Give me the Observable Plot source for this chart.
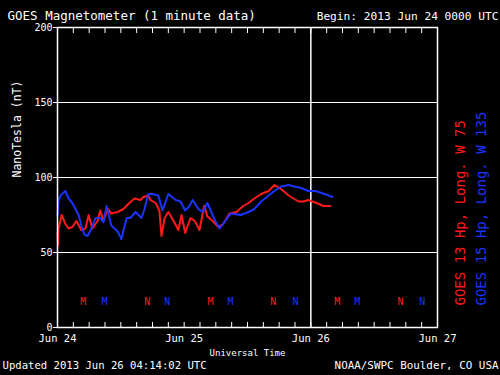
<!DOCTYPE html>
<html>
<head>
<meta charset="utf-8">
<script src="https://cdn.jsdelivr.net/npm/d3@7"></script>
<script src="https://cdn.jsdelivr.net/npm/@observablehq/plot@0.6"></script>
<style>
  html, body { margin: 0; padding: 0; background: #000; }
</style>
</head>
<body>
<div id="chart"></div>
<script>
// Hours since 2013 Jun 24 00:00 UTC
const redHours = [0.0, 0.1, 0.2, 0.8, 1.5, 2.1, 2.8, 3.6, 4.5, 5.3, 5.9, 6.6, 7.6, 8.1, 8.7, 9.5, 10.2, 11.4, 12.5, 13.6, 14.6, 15.7, 16.3, 17.2, 17.6, 18.6, 19.3, 19.7, 20.3, 21.0, 22.0, 22.9, 23.5, 24.2, 25.2, 26.0, 26.9, 27.8, 28.4, 29.4, 30.5, 31.4, 32.6, 33.9, 35.2, 36.2, 37.3, 38.6, 40.0, 41.1, 42.1, 42.8, 43.8, 44.7, 45.7, 46.6, 47.5, 49.1, 50.4, 51.7];
const redValues = [63, 55, 66, 75, 69, 66, 67, 71, 65, 66, 75, 66, 71, 78, 71, 79, 76, 77, 79, 83, 86, 85, 87, 88, 85, 83, 78, 61, 73, 77, 71, 65, 75, 63, 73, 71, 65, 81, 74, 71, 67, 69, 76, 77, 81, 83, 86, 89, 91, 95, 93, 91, 88, 86, 84, 84, 85, 83, 81, 81];
const blueHours = [0.0, 0.2, 0.57, 1.5, 2.1, 2.8, 3.4, 4.0, 4.5, 5.1, 5.7, 6.3, 7.2, 8.1, 8.7, 9.3, 10.2, 11.4, 12.1, 13.1, 13.8, 14.8, 15.9, 16.5, 17.2, 18.0, 19.1, 19.9, 21.0, 22.4, 23.3, 24.2, 25.0, 25.6, 26.7, 27.5, 28.4, 29.4, 29.9, 30.7, 31.8, 32.8, 34.7, 36.2, 37.3, 38.6, 40.0, 41.1, 42.4, 43.8, 44.9, 46.2, 47.5, 48.9, 50.6, 52.1];
const blueValues = [75, 85, 88, 91, 86, 83, 79, 75, 68, 62, 61, 65, 73, 73, 70, 81, 68, 64, 59, 73, 73, 77, 73, 79, 89, 89, 88, 78, 89, 85, 84, 78, 81, 85, 79, 77, 83, 75, 71, 66, 71, 76, 75, 77, 79, 84, 88, 91, 94, 95, 94, 93, 91, 91, 89, 87];

// Local midnight (M) / noon (N) markers
const markerHours = [4.9, 17.0, 29.0, 40.9, 53.0, 65.0, 8.9, 20.8, 32.8, 45.1, 56.8, 69.1];
const markerLabels = ["M", "N", "M", "N", "M", "N", "M", "N", "M", "N", "M", "N"];
const markerSat = ["r", "r", "r", "r", "r", "r", "b", "b", "b", "b", "b", "b"];

const xTickHours = [0, 24, 48, 72];
const xTickLabels = ["Jun 24", "Jun 25", "Jun 26", "Jun 27"];
const yTicks = [0, 50, 100, 150, 200];
const yGrid = [50, 100, 150];
const nowLine = [48];

const titleText = "GOES Magnetometer (1 minute data)";
const beginText = "Begin: 2013 Jun 24 0000 UTC";
const updatedText = "Updated 2013 Jun 26 04:14:02 UTC";
const creditText = "NOAA/SWPC Boulder, CO USA";
const xLabel = "Universal Time";
const yLabel = "NanoTesla (nT)";
const redLabel = "GOES 13 Hp, Long. W 75";
const blueLabel = "GOES 15 Hp, Long. W 135";

const RED = "#ff1a1a";
const BLUE = "#1a33ff";

const red = redHours.map((h, i) => ({h, v: redValues[i]}));
const blue = blueHours.map((h, i) => ({h, v: blueValues[i]}));
const markers = markerHours.map((h, i) => ({h, t: markerLabels[i], c: markerSat[i] === "r" ? RED : BLUE}));
const minorTicks = d3.range(0, 73, 3);

const font = "DejaVu Sans Mono";

const chart = Plot.plot({
  width: 500,
  height: 375,
  marginLeft: 57,
  marginRight: 63,
  marginTop: 27,
  marginBottom: 48,
  style: {background: "#000", color: "#fff", fontFamily: font},
  x: {domain: [0, 72], axis: null},
  y: {domain: [0, 200], axis: null},
  marks: [
    Plot.ruleY(yGrid, {stroke: "#fff", strokeWidth: 1}),
    Plot.ruleX(nowLine, {stroke: "#fff", strokeWidth: 1.5}),
    Plot.line(red, {x: "h", y: "v", stroke: RED, strokeWidth: 2}),
    Plot.line(blue, {x: "h", y: "v", stroke: BLUE, strokeWidth: 2}),
    Plot.frame({stroke: "#fff", strokeWidth: 1.5}),
    Plot.axisX(minorTicks, {anchor: "bottom", tickSize: -5, tickFormat: () => "", stroke: "#fff", label: null}),
    Plot.axisX(minorTicks, {anchor: "top", tickSize: -5, tickFormat: () => "", stroke: "#fff", label: null}),
    Plot.axisY(yTicks, {anchor: "left", tickSize: 4, tickPadding: 1, fontSize: 10, fill: "#fff", stroke: "#fff", label: null}),
    Plot.text(xTickHours, {x: d => d, text: (d, i) => xTickLabels[i], frameAnchor: "bottom", lineAnchor: "top", dy: 7, fontSize: 10.5, fill: "#fff"}),
    Plot.text(markers, {x: "h", text: "t", fill: "c", frameAnchor: "bottom", lineAnchor: "middle", dy: -26, fontSize: 10}),
    Plot.text([titleText], {frameAnchor: "top-left", textAnchor: "start", lineAnchor: "bottom", dx: -50, dy: -8, fontSize: 12.5, fill: "#fff"}),
    Plot.text([beginText], {frameAnchor: "top-right", textAnchor: "end", lineAnchor: "bottom", dx: 61, dy: -8, fontSize: 11.2, fill: "#fff"}),
    Plot.text([xLabel], {frameAnchor: "bottom", lineAnchor: "bottom", dy: 28, fontSize: 9, fill: "#fff"}),
    Plot.text([updatedText], {frameAnchor: "bottom-left", textAnchor: "start", lineAnchor: "bottom", dx: -55, dy: 41, fontSize: 10.6, fill: "#fff"}),
    Plot.text([creditText], {frameAnchor: "bottom-right", textAnchor: "end", lineAnchor: "bottom", dx: 61, dy: 41, fontSize: 10.9, fill: "#fff"}),
    Plot.text([yLabel], {frameAnchor: "left", rotate: -90, lineAnchor: "middle", dx: -40, fontSize: 11.5, fill: "#fff"}),
    Plot.text([redLabel], {frameAnchor: "bottom-right", rotate: -90, textAnchor: "start", lineAnchor: "middle", dx: 23, dy: -22, fontSize: 14, fill: RED}),
    Plot.text([blueLabel], {frameAnchor: "bottom-right", rotate: -90, textAnchor: "start", lineAnchor: "middle", dx: 44, dy: -22, fontSize: 14, fill: BLUE})
  ]
});
document.getElementById("chart").appendChild(chart);
</script>
</body>
</html>
